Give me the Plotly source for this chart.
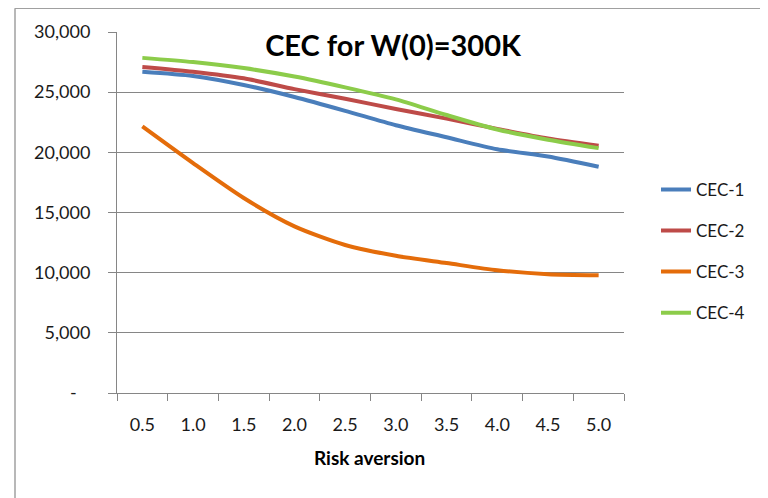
import plotly.graph_objects as go

categories = ["0.5", "1.0", "1.5", "2.0", "2.5", "3.0", "3.5", "4.0", "4.5", "5.0"]
cec1 = [26700, 26350, 25600, 24600, 23450, 22250, 21250, 20250, 19650, 18800]
cec2 = [27100, 26700, 26150, 25250, 24450, 23600, 22800, 21950, 21150, 20550]
cec3 = [22150, 19100, 16200, 13850, 12300, 11400, 10800, 10200, 9870, 9780]
cec4 = [27850, 27500, 27000, 26300, 25400, 24400, 23100, 21900, 21050, 20350]
series_names = ["CEC-1", "CEC-2", "CEC-3", "CEC-4"]
series_values = [cec1, cec2, cec3, cec4]
colors = ["#4A7EBB", "#BE4B48", "#E46C0A", "#8CCC4A"]
y_tickvals = [0, 5000, 10000, 15000, 20000, 25000, 30000]
y_ticktext = ["-\u00a0\u00a0\u00a0", "5,000", "10,000", "15,000", "20,000", "25,000", "30,000"]

FONT = "Lato"
OFF = 8  # page body margin
W, H = 768 - OFF, 498 - OFF
L, R, T, B = 117 - OFF, 624 - OFF, 29 - OFF, 393 - OFF

fig = go.Figure()
for i, (name, vals) in enumerate(zip(series_names, series_values)):
    fig.add_trace(go.Scatter(
        x=categories, y=vals, name=name, mode="lines",
        line=dict(color=colors[i], width=4, shape="spline", smoothing=0.7),
        legendgroup=name,
    ))

def px_x(px):
    return (px - OFF - L) / (R - L)

def px_y(py):
    return (B - (py - OFF)) / (B - T)

fig.update_layout(
    width=W, height=H,
    margin=dict(l=L, r=W - R, t=T, b=H - B, pad=0),
    paper_bgcolor="white", plot_bgcolor="white",
    font=dict(family=FONT, size=17, color="#1a1a1a"),
    title=dict(text="<b>CEC for W(0)=300K</b>", x=(393 - OFF) / W, xanchor="center",
               y=1 - (46 - OFF) / H, yanchor="middle", xref="container", yref="container",
               font=dict(family=FONT, size=29, color="black")),
    showlegend=True,
    legend=dict(x=px_x(656), xanchor="left", y=px_y(170), yanchor="top",
                font=dict(family=FONT, size=17, color="#1a1a1a"),
                tracegroupgap=16, bgcolor="rgba(0,0,0,0)", itemwidth=30),
    xaxis=dict(type="category", range=[-0.5, 9.5], showgrid=False, showline=True,
               linecolor="#868686", linewidth=1, ticks="outside", ticklen=7,
               tickcolor="#868686", tickson="boundaries",
               tickfont=dict(family=FONT, size=18, color="#1a1a1a"),
               ticklabelstandoff=15, zeroline=False),
    yaxis=dict(range=[0, 30000], tickvals=y_tickvals, ticktext=y_ticktext,
               showgrid=True, gridcolor="#868686", gridwidth=1,
               showline=True, linecolor="#868686", linewidth=1,
               ticks="outside", ticklen=8, tickcolor="#868686",
               tickfont=dict(family=FONT, size=18, color="#1a1a1a"),
               ticklabelstandoff=14, zeroline=False),
    annotations=[dict(text="<b>Risk aversion</b>", x=px_x(369), y=px_y(458),
                      xref="paper", yref="paper", showarrow=False,
                      xanchor="center", yanchor="middle",
                      font=dict(family=FONT, size=19, color="black"))],
    shapes=[
        dict(type="line", xref="paper", yref="paper",
             x0=px_x(15), x1=px_x(800), y0=px_y(5), y1=px_y(5),
             line=dict(color="#A0A0A0", width=1.5), layer="below"),
        dict(type="line", xref="paper", yref="paper",
             x0=px_x(15), x1=px_x(15), y0=px_y(5), y1=px_y(520),
             line=dict(color="#A0A0A0", width=1.5), layer="below"),
    ],
)

fig.write_html("out.html")
